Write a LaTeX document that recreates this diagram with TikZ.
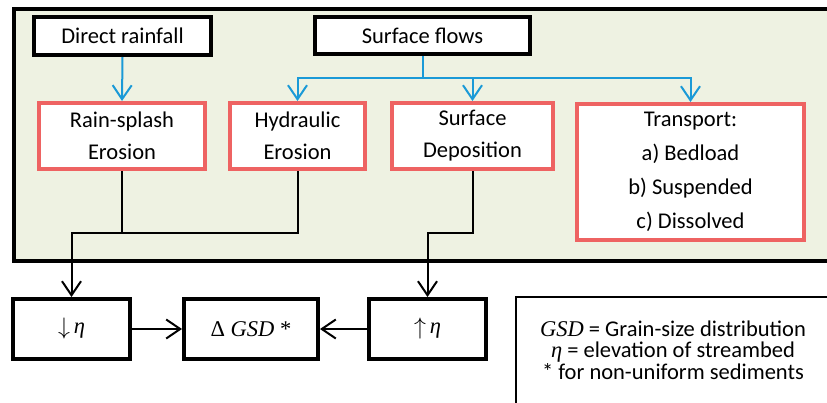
\documentclass[tikz,border=0pt]{standalone}
\usepackage{fontspec}
\setmainfont{Carlito}
\newfontfamily\serif{Liberation Serif}
\usetikzlibrary{arrows.meta}
\definecolor{bggreen}{HTML}{EEF2E2}
\definecolor{boxred}{HTML}{EE6362}
\definecolor{flowblue}{HTML}{1A9AD7}
\tikzset{
  blackbox/.style={draw=black, line width=4pt, fill=white, inner sep=0pt, align=center,
    font=\fontsize{22.5}{32}\selectfont},
  redbox/.style={draw=boxred, line width=4pt, fill=white, inner sep=0pt, align=center},
  tip/.style={-{Straight Barb[length=14pt,width=19pt,line width=2pt]}},
  flow/.style={draw=flowblue, line width=2pt},
  link/.style={draw=black, line width=2pt},
}
\begin{document}
\begin{tikzpicture}[x=1pt,y=-1pt]
\useasboundingbox (0,0) rectangle (827,402);
\clip (0,0) rectangle (827,402);
% outer panel
\draw[line width=4pt, fill=bggreen] (14,9) rectangle (845,261);
% top sources
\node[blackbox, minimum width=177pt, minimum height=38pt] (dr) at (122.5,36) {Direct rainfall};
\node[blackbox, minimum width=215pt, minimum height=37pt] (sf) at (422.5,35.5) {Surface flows};
% processes
\node[redbox, minimum width=166pt, minimum height=66pt, font=\fontsize{22.5}{32}\selectfont] (rs) at (122,136) {Rain-splash\\Erosion};
\node[redbox, minimum width=135pt, minimum height=66pt, font=\fontsize{22.5}{32}\selectfont] (hy) at (297.5,136) {Hydraulic\\Erosion};
\node[redbox, minimum width=161pt, minimum height=66pt, font=\fontsize{22.5}{32}\selectfont] (sd) at (472.5,136) {Surface\\Deposition};
\node[redbox, minimum width=227pt, minimum height=136pt, font=\fontsize{22.5}{34}\selectfont] (tr) at (690.5,172) {Transport:\\a) Bedload\\b) Suspended\\c) Dissolved};
% results
\node[blackbox, minimum width=117pt, minimum height=60pt] (dn) at (71.5,329) {\serif\raisebox{-1pt}{\scalebox{1.15}{$\downarrow$}}\,\itshape η};
\node[blackbox, minimum width=134pt, minimum height=60pt] (gsd) at (251,329) {\serif Δ \itshape GSD\upshape\ *};
\node[blackbox, minimum width=117pt, minimum height=60pt] (up) at (427.5,329) {\serif\raisebox{-1pt}{\scalebox{1.15}{$\uparrow$}}\,\itshape η};
% legend
\draw[line width=1.5pt, fill=white] (516,297) rectangle (845,410);
\node[inner sep=0pt, align=center, font=\fontsize{22.5}{21.5}\selectfont] (leg) at (673,350)
  {{\serif\itshape GSD} = Grain-size distribution\\{\serif\itshape η} = elevation of streambed\\* for non-uniform sediments};
% blue flow connectors
\coordinate (jb) at (0,78);
\draw[flow, tip] (dr.south) -- (rs.north);
\draw[flow] (sf.south) -- (sf.south |- jb);
\draw[flow, tip] (sf.south |- jb) -| (hy.north);
\draw[flow, tip] (sf.south |- jb) -| (sd.north);
\draw[flow, tip] (sf.south |- jb) -| (tr.north);
% black connectors
\coordinate (jl) at (0,233);
\draw[link] (rs.south) -- (rs.south |- jl);
\draw[link, tip] (hy.south) |- (dn.north |- jl) -- (dn.north);
\draw[link, tip] (sd.south) |- (up.north |- jl) -- (up.north);
\draw[link, tip] (dn.east) -- (gsd.west);
\draw[link, tip] (up.west) -- (gsd.east);
\end{tikzpicture}
\end{document}
